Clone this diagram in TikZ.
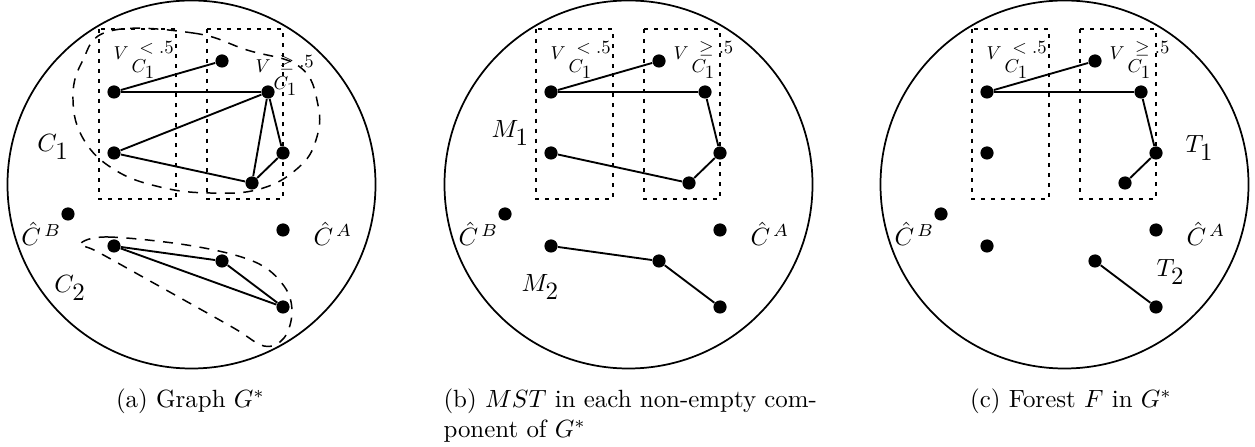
\documentclass[tikz,border=0pt]{standalone}
\usepackage{amsmath}
\newcommand{\vlab}[4]{\scalebox{0.75}{$V\kern1.6pt\raisebox{-#4}{$C_{\textstyle 1}$}\kern#2\raisebox{#3}{$#1.5$}$}}
\newcommand{\clab}[2]{$#1_{\textstyle #2}$}
\newcommand{\hlab}[1]{$\hat{C}^{\kern1.2pt #1}$}
\begin{document}
\begin{tikzpicture}[x=0.4016pt,y=-0.4016pt]
\tikzset{
  vtx/.style={circle,fill=black,inner sep=0pt,minimum size=5.3pt},
  link/.style={line width=0.75pt},
  boxline/.style={dash pattern=on 1.6pt off 2.4pt,line width=0.6pt},
  blobline/.style={dash pattern=on 4pt off 3.4pt,line width=0.6pt},
  lab/.style={inner sep=0pt,anchor=base west},
  ringnode/.style={draw,circle,line width=0.7pt,inner sep=0pt,minimum size=147.8pt},
  captext/.style={inner sep=0pt}
}
\useasboundingbox (0,0) rectangle (1255,447);
\newcommand{\panelbody}{%
  \node[ringnode] (ring) at (191.5,184.5) {};
  \node[vtx] (v1) at (114,92) {};
  \node[vtx] (v2) at (222,61) {};
  \node[vtx] (v3) at (268,92) {};
  \node[vtx] (v4) at (114,153) {};
  \node[vtx] (v5) at (283,153) {};
  \node[vtx] (v6) at (252,183) {};
  \node[vtx] (cb) at (68,214) {};
  \node[vtx] (ca) at (283,230) {};
  \node[vtx] (w1) at (114,246) {};
  \node[vtx] (w2) at (222,261) {};
  \node[vtx] (w3) at (283,307) {};
  \draw[boxline] (99,29) rectangle (176,199);
  \draw[boxline] (207,29) rectangle (283,199);
  \node[lab] (lb) at (21,246) {\hlab{B}};
  \node[lab] (la) at (313,246) {\hlab{A}};
  \node[lab] (vlo) at (113,60) {\vlab{<}{-8.4pt}{3.5pt}{6.7pt}};
}
% ---------- panel (a)
\begin{scope}[name prefix=a-]
  \panelbody
  \node[lab] (vhi) at (255,73) {\vlab{\geq}{-9.4pt}{2.7pt}{9.1pt}};
  \node[lab] (c1) at (37,152) {\clab{C}{1}};
  \node[lab] (c2) at (54,293) {\clab{C}{2}};
  \draw[link] (v1) -- (v2);
  \draw[link] (v1) -- (v3);
  \draw[link] (v3) -- (v4);
  \draw[link] (v4) -- (v6);
  \draw[link] (v3) -- (v6);
  \draw[link] (v3) -- (v5);
  \draw[link] (v5) -- (v6);
  \draw[link] (w1) -- (w2);
  \draw[link] (w2) -- (w3);
  \draw[link] (w1) -- (w3);
  \draw[blobline] plot[smooth cycle,tension=0.7] coordinates {(110,31) (193,33) (247,50) (300,67) (318,105) (316,140) (298,168) (260,189) (210,193) (160,187) (115,170) (84,140) (73,100) (82,62)};
  \draw[blobline] plot[smooth cycle,tension=0.6] coordinates {(80,244) (108,237) (193,246) (255,262) (284,286) (292,312) (284,338) (264,346) (232,327) (150,281) (96,251)};
\end{scope}
% ---------- panel (b)
\begin{scope}[shift={(437,0)},name prefix=b-]
  \panelbody
  \node[lab] (vhi) at (236,60) {\vlab{\geq}{-8.6pt}{3.5pt}{6.7pt}};
  \node[lab] (m1) at (54,138) {\clab{M}{1}};
  \node[lab] (m2) at (84,292) {\clab{M}{2}};
  \draw[link] (v1) -- (v2);
  \draw[link] (v1) -- (v3);
  \draw[link] (v3) -- (v5);
  \draw[link] (v5) -- (v6);
  \draw[link] (v4) -- (v6);
  \draw[link] (w1) -- (w2);
  \draw[link] (w2) -- (w3);
\end{scope}
% ---------- panel (c)
\begin{scope}[shift={(873,0)},name prefix=c-]
  \panelbody
  \node[lab] (vhi) at (236,60) {\vlab{\geq}{-8.6pt}{3.5pt}{6.7pt}};
  \node[lab] (t1) at (312,153) {\clab{T}{1}};
  \node[lab] (t2) at (283,277) {\clab{T}{2}};
  \draw[link] (v1) -- (v2);
  \draw[link] (v1) -- (v3);
  \draw[link] (v3) -- (v5);
  \draw[link] (v5) -- (v6);
  \draw[link] (w2) -- (w3);
\end{scope}
% ---------- captions
\node[captext,anchor=base] (capa) at (190.5,408) {(a) Graph $G^*$};
\node[captext,anchor=base west] (capb1) at (443,408) {(b) $MST$ in each non-empty com-};
\node[captext,anchor=base west] (capb2) at (443,438) {ponent of $G^*$};
\node[captext,anchor=base] (capc) at (1071,408) {(c) Forest $F$ in $G^*$};
\end{tikzpicture}
\end{document}
